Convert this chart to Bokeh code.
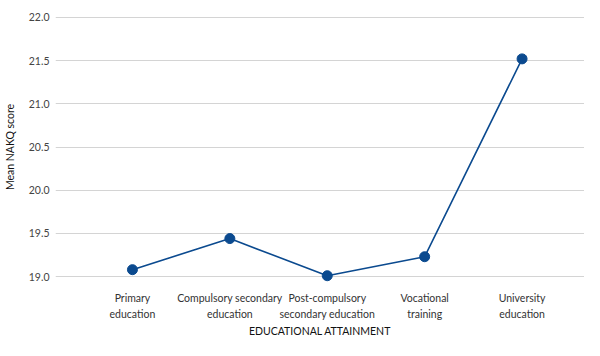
from bokeh.plotting import figure
from bokeh.models import Range1d, FixedTicker, ColumnDataSource, NumeralTickFormatter
from bokeh.embed import file_html
from bokeh.resources import INLINE

categories = ["Primary\neducation", "Compulsory secondary\neducation",
              "Post-compulsory\nsecondary education", "Vocational\ntraining",
              "University\neducation"]
scores = [19.08, 19.44, 19.01, 19.23, 21.52]
y_ticks = [19.0, 19.5, 20.0, 20.5, 21.0, 21.5, 22.0]
x_title = "EDUCATIONAL ATTAINMENT"
y_title = "Mean NAKQ score"

FONT = "Lato"
FS = "10.5px"

xs = list(range(len(categories)))
src = ColumnDataSource(dict(x=xs, y=scores))

p = figure(width=584, height=340, output_backend="svg", toolbar_location=None,
           x_range=Range1d(-0.79, 4.641), y_range=Range1d(18.92, 22.08),
           min_border_left=50, min_border_right=0, min_border_top=10, min_border_bottom=50)
p.outline_line_color = None
p.background_fill_color = "white"

p.line("x", "y", source=src, line_color="#0b4a8f", line_width=1.6)
p.scatter("x", "y", source=src, size=10, fill_color="#0b4a8f", line_color="#0b4a8f")

# x axis
p.xaxis.ticker = FixedTicker(ticks=xs)
p.xaxis.major_label_overrides = {i: c for i, c in enumerate(categories)}
p.xaxis.axis_line_color = None
p.xaxis.major_tick_line_color = None
p.xaxis.minor_tick_line_color = None
p.xaxis.major_tick_in = 0
p.xaxis.major_tick_out = 0
p.xaxis.major_label_text_font = FONT
p.xaxis.major_label_text_font_size = FS
p.xaxis.major_label_text_line_height = 1.4
p.xaxis.major_label_text_color = "#333333"
p.xaxis.major_label_standoff = 8
p.xaxis.axis_label = x_title
p.xaxis.axis_label_text_font = FONT
p.xaxis.axis_label_text_font_style = "normal"
p.xaxis.axis_label_text_font_size = FS
p.xaxis.axis_label_text_color = "#111111"
p.xaxis.axis_label_standoff = 2
p.xgrid.grid_line_color = None

# y axis
p.yaxis.ticker = FixedTicker(ticks=y_ticks)
p.yaxis.formatter = NumeralTickFormatter(format="0.0")
p.yaxis.axis_line_color = None
p.yaxis.major_tick_line_color = None
p.yaxis.minor_tick_line_color = None
p.yaxis.major_tick_in = 0
p.yaxis.major_tick_out = 0
p.yaxis.major_label_text_font = FONT
p.yaxis.major_label_text_font_size = FS
p.yaxis.major_label_text_color = "#444444"
p.yaxis.major_label_standoff = 6
p.yaxis.axis_label = y_title
p.yaxis.axis_label_text_font = FONT
p.yaxis.axis_label_text_font_style = "normal"
p.yaxis.axis_label_text_font_size = FS
p.yaxis.axis_label_text_color = "#111111"
p.yaxis.axis_label_standoff = 10
p.ygrid.ticker = FixedTicker(ticks=y_ticks)
p.ygrid.grid_line_color = "#d4d4d4"
p.ygrid.grid_line_width = 1

open("out.html", "w").write(file_html(p, INLINE))
